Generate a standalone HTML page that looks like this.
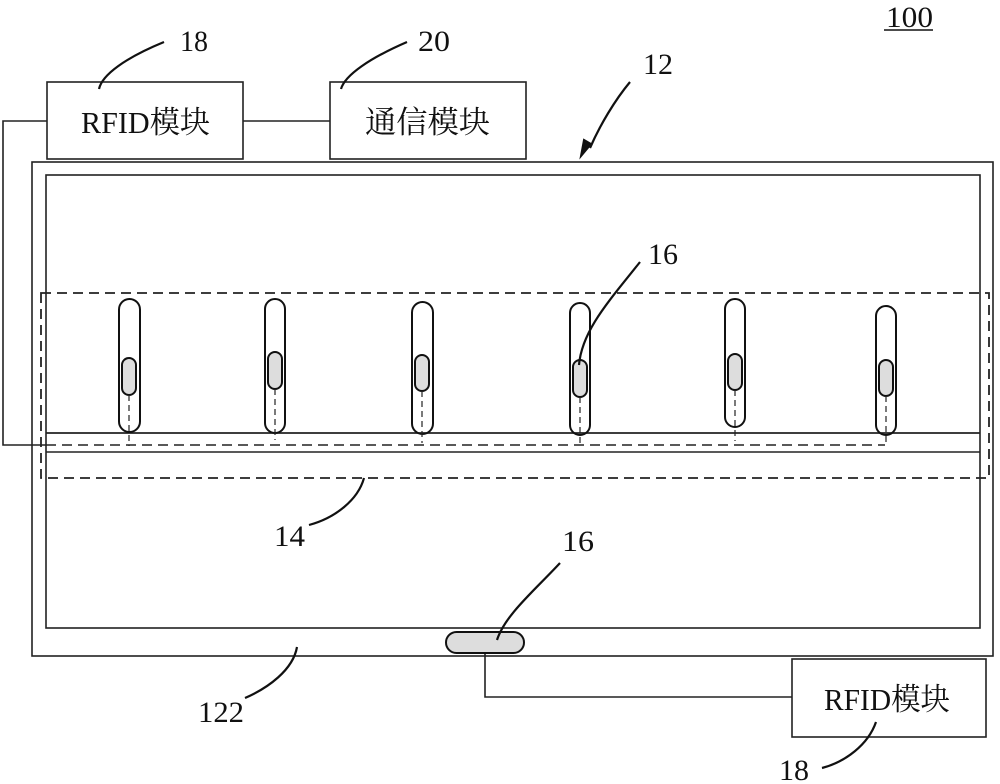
<!DOCTYPE html>
<html><head><meta charset="utf-8"><style>
html,body{margin:0;padding:0;background:#fff;}
svg{display:block;}
text{font-family:"Liberation Serif","Noto Serif CJK SC",serif;fill:#111;}
</style></head><body>
<svg width="1000" height="784" viewBox="0 0 1000 784" xmlns="http://www.w3.org/2000/svg">
<g fill="none" stroke="#222" stroke-width="1.6">
<rect x="32" y="162" width="961" height="494"/>
<rect x="46" y="175" width="934" height="453"/>
<rect x="47" y="82" width="196" height="77"/>
<rect x="330" y="82" width="196" height="77"/>
<rect x="792" y="659" width="194" height="78"/>
<line x1="243" y1="121" x2="330" y2="121"/>
<polyline points="47,121 3,121 3,445 46,445"/>
<line x1="46" y1="433" x2="980" y2="433" stroke-width="1.8"/>
<line x1="46" y1="452" x2="980" y2="452"/>
<rect x="41" y="293" width="948" height="185" stroke-dasharray="10,6" stroke-width="1.8"/>
<line x1="46" y1="445" x2="885" y2="445" stroke-dasharray="10,6"/>
<polyline points="485,653 485,697 792,697"/>
</g>
<g fill="none" stroke="#111" stroke-width="2">
<rect x="119" y="299" width="21" height="133" rx="10.5"/>
<rect x="122" y="358" width="14" height="37" rx="7" fill="#ddd"/>
<rect x="265" y="299" width="20" height="134" rx="10"/>
<rect x="268" y="352" width="14" height="37" rx="7" fill="#ddd"/>
<rect x="412" y="302" width="21" height="132" rx="10.5"/>
<rect x="415" y="355" width="14" height="36" rx="7" fill="#ddd"/>
<rect x="570" y="303" width="20" height="132" rx="10"/>
<rect x="573" y="360" width="14" height="37" rx="7" fill="#ddd"/>
<rect x="725" y="299" width="20" height="128" rx="10"/>
<rect x="728" y="354" width="14" height="36" rx="7" fill="#ddd"/>
<rect x="876" y="306" width="20" height="129" rx="10"/>
<rect x="879" y="360" width="14" height="36" rx="7" fill="#ddd"/>
<rect x="446" y="632" width="78" height="21" rx="10.5" fill="#ddd"/>
</g>
<g stroke="#222" stroke-width="1.2" stroke-dasharray="6,4">
<line x1="129" y1="395" x2="129" y2="446"/>
<line x1="275" y1="389" x2="275" y2="440"/>
<line x1="422" y1="391" x2="422" y2="443"/>
<line x1="580" y1="397" x2="580" y2="446"/>
<line x1="735" y1="390" x2="735" y2="441"/>
<line x1="886" y1="396" x2="886" y2="446"/>
</g>
<g fill="none" stroke="#111" stroke-width="2.2">
<path d="M164,42 C125,58 102,75 99,89"/>
<path d="M407,42 C370,58 345,75 341,89"/>
<path d="M630,82 C615,100 600,125 590,148"/>
<path d="M640,262 C610,300 582,330 579,365"/>
<path d="M364,478 C358,500 335,518 309,525"/>
<path d="M560,563 C535,590 505,615 497,640"/>
<path d="M297,647 C293,670 268,688 245,698"/>
<path d="M876,722 C868,745 845,762 822,768"/>
</g>
<path d="M581,156 L584,140 L591,144 Z" fill="#111" stroke="#111" stroke-width="2"/>
<g font-size="30">
<text x="180" y="51" textLength="28" lengthAdjust="spacingAndGlyphs">18</text>
<text x="418" y="51" textLength="32" lengthAdjust="spacingAndGlyphs">20</text>
<text x="643" y="74" textLength="30" lengthAdjust="spacingAndGlyphs">12</text>
<text x="886" y="27" textLength="47" lengthAdjust="spacingAndGlyphs">100</text>
<text x="648" y="264" textLength="30" lengthAdjust="spacingAndGlyphs">16</text>
<text x="274" y="546" textLength="31" lengthAdjust="spacingAndGlyphs">14</text>
<text x="562" y="551" textLength="32" lengthAdjust="spacingAndGlyphs">16</text>
<text x="198" y="722" textLength="46" lengthAdjust="spacingAndGlyphs">122</text>
<text x="779" y="780" textLength="30" lengthAdjust="spacingAndGlyphs">18</text>
</g>
<line x1="884" y1="30" x2="933" y2="30" stroke="#111" stroke-width="1.6"/>
<g font-size="31">
<text x="81" y="133" textLength="129" lengthAdjust="spacingAndGlyphs">RFID模块</text>
<text x="365" y="133" textLength="125" lengthAdjust="spacingAndGlyphs">通信模块</text>
<text x="824" y="710" textLength="126" lengthAdjust="spacingAndGlyphs">RFID模块</text>
</g>
</svg>
</body></html>
